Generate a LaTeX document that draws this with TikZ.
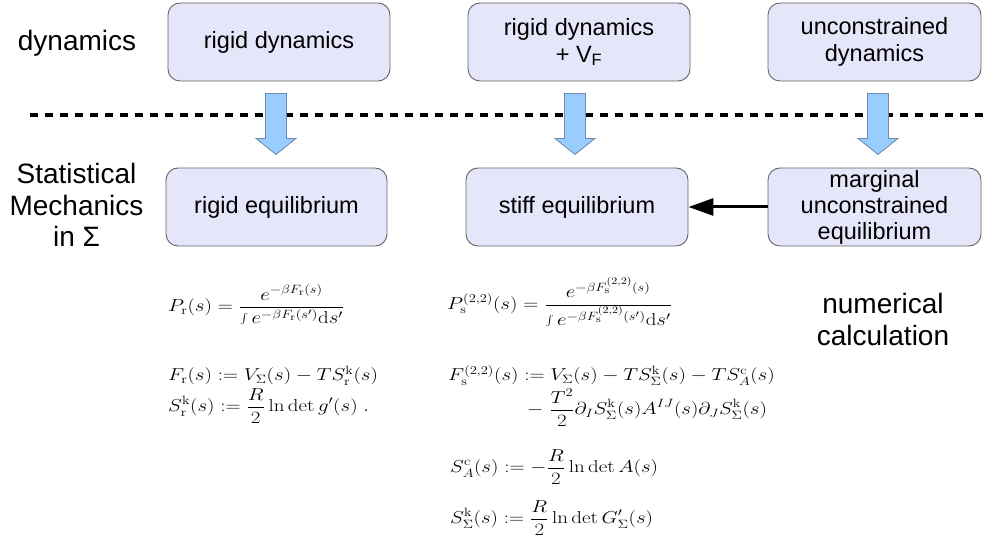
\RequirePackage{fix-cm}
\documentclass[tikz,border=0pt]{standalone}
\usepackage{graphicx}
\usepackage[no-math]{fontspec}
\setmainfont{Liberation Sans}
\usetikzlibrary{arrows.meta,calc}
\definecolor{boxfill}{RGB}{230,230,251}
\definecolor{boxdraw}{RGB}{100,100,100}
\definecolor{arrfill}{RGB}{153,204,255}
\definecolor{arrdraw}{RGB}{110,140,170}
\newcommand\eqstretch[1]{\scalebox{1.21}[1]{#1}}
\begin{document}
\begin{tikzpicture}[x=1pt,y=-1pt,
 box/.style={draw=boxdraw, line width=0.9pt, fill=boxfill, rounded corners=12pt,
   minimum width=222pt, minimum height=78pt, align=center, inner sep=0pt,
   font=\fontsize{23.5}{27}\selectfont},
 side/.style={align=center, inner sep=0pt, font=\fontsize{28}{31.5}\selectfont},
 eq/.style={anchor=west, inner sep=0pt, font=\fontsize{17.28}{21}\selectfont},
 blockarrow/.pic={\filldraw[fill=arrfill, draw=arrdraw, line width=0.8pt]
   (-10.5,0) -- (10.5,0) -- (10.5,45) -- (20,45) -- (0,61) -- (-20,45) -- (-10.5,45) -- cycle;}
]
\useasboundingbox (0,0) rectangle (983,545);

% boxes
\node[box] (d1) at (279,42) {rigid dynamics};
\node[box] (d2) at (579,42) {rigid dynamics\\+ V\textsubscript{F}};
\node[box, minimum width=213pt] (d3) at (874.5,42) {unconstrained\\dynamics};
\node[box, minimum width=221pt] (e1) at (276.5,207) {rigid equilibrium};
\node[box] (e2) at (577,207) {stiff equilibrium};
\node[box, minimum width=213pt, font=\fontsize{23.5}{26}\selectfont] (e3) at (874.5,207) {marginal\\unconstrained\\equilibrium};

% side labels
\node[side] (ldyn) at (77,43) {dynamics};
\node[side] (lstat) at (76.5,205) {Statistical\\Mechanics\\in Σ};
\node[side, font=\fontsize{28}{32}\selectfont] (lnum) at (883,319) {numerical\\calculation};

% separator
\draw[line width=4pt, dash pattern=on 8pt off 7pt] (30,115) -- (983,115);

% block arrows
\path (d1.south) ++(-3,12) pic{blockarrow};
\path (d2.south) ++(-4,12) pic{blockarrow};
\path (d3.south) ++(3.5,12) pic{blockarrow};

% horizontal arrow
\draw[line width=3pt, -{Triangle[length=25pt,width=17pt]}] (e3.west) -- (e2.east);

% equations left
\node[eq] (pr) at (168,305) {\eqstretch{$\displaystyle P_{\mathrm{r}}(s)=\frac{e^{-\beta F_{\mathrm{r}}(s)}}{\int e^{-\beta F_{\mathrm{r}}(s')}\mathrm{d}s'}$}};
\node[eq, anchor=base west] (fr) at (168,381) {\eqstretch{$F_{\mathrm{r}}(s):=V_\Sigma(s)-TS^{\mathrm{k}}_{\mathrm{r}}(s)$}};
\node[eq] (sr) at (168,406) {\eqstretch{$\displaystyle S^{\mathrm{k}}_{\mathrm{r}}(s):=\frac{R}{2}\ln\det g'(s)\ .$}};

% equations middle
\node[eq] (ps) at (447,302) {\eqstretch{$\displaystyle P^{(2,2)}_{\mathrm{s}}(s)=\frac{e^{-\beta F^{(2,2)}_{\mathrm{s}}(s)}}{\int e^{-\beta F^{(2,2)}_{\mathrm{s}}(s')}\mathrm{d}s'}$}};
\node[eq, anchor=base west] (fs) at (448,381) {\eqstretch{$F^{(2,2)}_{\mathrm{s}}(s):=V_\Sigma(s)-TS^{\mathrm{k}}_\Sigma(s)-TS^{\mathrm{c}}_A(s)$}};
\node[eq] (fs2) at (527,408) {\eqstretch{$\displaystyle -\;\frac{T^2}{2}\partial_I S^{\mathrm{k}}_\Sigma(s)A^{IJ}(s)\partial_J S^{\mathrm{k}}_\Sigma(s)$}};
\node[eq] (sa) at (450,467) {\eqstretch{$\displaystyle S^{\mathrm{c}}_A(s):=-\frac{R}{2}\ln\det A(s)$}};
\node[eq] (ss) at (450,518) {\eqstretch{$\displaystyle S^{\mathrm{k}}_\Sigma(s):=\frac{R}{2}\ln\det G'_\Sigma(s)$}};
\end{tikzpicture}
\end{document}
